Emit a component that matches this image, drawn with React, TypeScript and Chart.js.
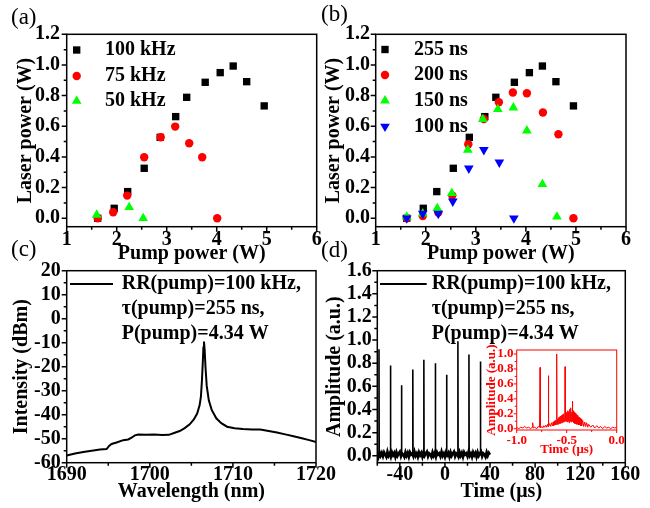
import React, { useEffect, useRef } from 'react';
import { Chart, registerables } from 'chart.js';

Chart.register(...registerables);

const SERIF = '"Liberation Serif", "Times New Roman", serif';

// ---------- (a) / (b): laser power vs pump power ----------
const pumpRef = [1.62, 1.95, 2.22, 2.55, 2.87, 3.18, 3.40, 3.77, 4.07, 4.33, 4.60, 4.95];
const powerRef = [0.0, 0.065, 0.174, 0.326, 0.528, 0.663, 0.789, 0.887, 0.950, 0.993, 0.891, 0.733];
const pump75 = [1.62, 1.93, 2.21, 2.55, 2.88, 3.17, 3.45, 3.71, 4.01];
const power75 = [0.0, 0.039, 0.148, 0.398, 0.528, 0.598, 0.489, 0.398, 0.0];
const pump50 = [1.60, 2.25, 2.53];
const power50 = [0.022, 0.072, 0.0];
const pump200 = [1.62, 1.94, 2.25, 2.53, 2.85, 3.16, 3.46, 3.74, 4.02, 4.34, 4.65, 4.95];
const power200 = [0.0, 0.015, 0.037, 0.148, 0.483, 0.648, 0.757, 0.820, 0.815, 0.690, 0.548, 0.0];
const pump150 = [1.62, 1.94, 2.23, 2.52, 2.84, 3.14, 3.44, 3.75, 4.02, 4.33, 4.62];
const power150 = [0.01, 0.03, 0.065, 0.163, 0.446, 0.646, 0.711, 0.722, 0.572, 0.222, 0.01];
const pump100 = [1.62, 1.94, 2.25, 2.54, 2.86, 3.16, 3.47, 3.76];
const power100 = [0.0, 0.03, 0.03, 0.11, 0.326, 0.446, 0.365, 0.0];

const legendA = ['100 kHz', '75 kHz', '50 kHz'];
const legendB = ['255 ns', '200 ns', '150 ns', '100 ns'];

const pumpTicks = [1, 2, 3, 4, 5, 6];
const pumpMinor = [1.5, 2.5, 3.5, 4.5, 5.5];
const laserTicks = [0, 0.2, 0.4, 0.6, 0.8, 1.0, 1.2];
const laserMinor = [0.1, 0.3, 0.5, 0.7, 0.9, 1.1];

// ---------- (c): spectrum ----------
const wavelength = [1690, 1691, 1692, 1693, 1694, 1694.8, 1695.1, 1695.4, 1696, 1696.8, 1697.4, 1697.8, 1698.2, 1698.6, 1699.6, 1700.5, 1701.5, 1702.3, 1703, 1703.6, 1704.2, 1704.8, 1705.3, 1705.7, 1706.0, 1706.15, 1706.27, 1706.38, 1706.45, 1706.52, 1706.6, 1706.7, 1706.85, 1707.1, 1707.45, 1708, 1708.6, 1709.3, 1710.2, 1711.2, 1712.3, 1713.3, 1714.3, 1715.3, 1716.3, 1717.3, 1718.3, 1719.2, 1720];
const intensity = [-57, -56.2, -55.5, -55, -54.5, -54.3, -53, -52.2, -51.6, -50.6, -50.3, -49.6, -48.6, -48.3, -48.4, -48.2, -48.5, -48.4, -47.5, -46.8, -45.6, -44, -42, -39.5, -36, -32.5, -26, -18, -12, -9.5, -13, -20, -28, -34, -38, -41.5, -43.5, -45, -45.6, -46, -46.2, -46.2, -46.8, -47.4, -48.2, -49, -49.8, -50.6, -51.4];
const wlTicks = [1690, 1700, 1710, 1720];
const wlMinor = [1695, 1705, 1715];
const intTicks = [-60, -50, -40, -30, -20, -10, 0, 10, 20];
const intMinor = [-55, -45, -35, -25, -15, -5, 5, 15];

const legendCD = ['RR(pump)=100 kHz,', 'τ(pump)=255 ns,', 'P(pump)=4.34 W'];

// ---------- (d): pulse train ----------
const trainStart = -60; // first baseline sample (µs), samples every 1 µs
const baselineNoise = [
  0.02, -0.01, 0.03, 0.0, 0.025, -0.005, 0.03, 0.01, -0.01, 0.035, 0.0, 0.02, -0.01, 0.03, 0.005, 0.025, -0.01, 0.03, 0.0, 0.02,
  0.035, -0.005, 0.02, 0.01, -0.01, 0.03, 0.0, 0.025, -0.01, 0.03, 0.01, 0.02, -0.005, 0.035, 0.0, 0.02, -0.01, 0.03, 0.005, 0.025,
  -0.01, 0.03, 0.0, 0.02, 0.035, -0.005, 0.02, 0.01, -0.01, 0.03, 0.0, 0.025, -0.01, 0.03, 0.01, 0.02, -0.005, 0.035, 0.0, 0.02,
  -0.01, 0.03, 0.005, 0.025, -0.01, 0.03, 0.0, 0.02, 0.035, -0.005, 0.02, 0.01, -0.01, 0.03, 0.0, 0.025, -0.01, 0.03, 0.01, 0.02,
  -0.005, 0.035, 0.0, 0.02, -0.01, 0.03, 0.005, 0.025, -0.01, 0.03, 0.0, 0.02, 0.035, -0.005, 0.02, 0.01, -0.01, 0.03, 0.0, 0.025, 0.01,
];
const pulseTimes = [-58.5, -48.3, -38.5, -28.5, -18.7, -8.5, 1.5, 11.5, 21.3, 31.5];
const pulseHeights = [0.92, 0.78, 0.61, 0.745, 0.83, 0.80, 0.70, 0.99, 0.875, 0.815];
const timeTicks = [-40, 0, 40, 80, 120, 160];
const timeMinor = [-60, -20, 20, 60, 100, 140];
const ampTicks = [0, 0.2, 0.4, 0.6, 0.8, 1.0, 1.2, 1.4, 1.6];
const ampMinor = [0.1, 0.3, 0.5, 0.7, 0.9, 1.1, 1.3, 1.5];

// ---------- inset of (d) ----------
const insetTime = [
  -1.0, -0.98, -0.96, -0.94, -0.92, -0.90, -0.88, -0.86, -0.845, -0.84, -0.835, -0.82, -0.80, -0.785,
  -0.772, -0.767, -0.762, -0.75, -0.74, -0.73, -0.72, -0.71, -0.70, -0.69,
  -0.686, -0.683, -0.680, -0.67, -0.66, -0.65, -0.64, -0.635, -0.63, -0.625, -0.62, -0.615, -0.61,
  -0.603, -0.600, -0.597, -0.59, -0.585, -0.58, -0.575, -0.57, -0.565, -0.56, -0.555, -0.55, -0.545, -0.54, -0.535, -0.53, -0.525,
  -0.52, -0.517, -0.514, -0.51, -0.505, -0.50, -0.495, -0.49, -0.485, -0.48, -0.475, -0.47, -0.465, -0.46, -0.455, -0.45,
  -0.446, -0.443, -0.44, -0.435, -0.43, -0.425, -0.42, -0.415, -0.41, -0.405, -0.40, -0.395, -0.39, -0.385, -0.38, -0.375, -0.37, -0.365, -0.36, -0.355, -0.35,
  -0.34, -0.33, -0.32, -0.31, -0.30, -0.29, -0.28, -0.26, -0.24, -0.22, -0.20, -0.18, -0.16, -0.14, -0.12,
  -0.10, -0.08, -0.06, -0.04, -0.02, 0.0,
];
const insetAmp = [
  0.02, 0.0, 0.02, 0.01, 0.03, 0.01, 0.02, 0.0, 0.02, 0.08, 0.01, 0.02, 0.0, 0.03,
  0.02, 0.82, 0.01, 0.03, 0.01, 0.04, 0.02, 0.05, 0.02, 0.06,
  0.03, 0.71, 0.03, 0.07, 0.03, 0.08, 0.04, 0.09, 0.04, 0.10, 0.05, 0.11, 0.05,
  0.06, 1.0, 0.06, 0.13, 0.06, 0.15, 0.07, 0.16, 0.07, 0.17, 0.08, 0.18, 0.08, 0.19, 0.09, 0.2, 0.09,
  0.10, 0.83, 0.10, 0.21, 0.1, 0.22, 0.09, 0.24, 0.10, 0.23, 0.08, 0.26, 0.10, 0.28, 0.09, 0.22,
  0.10, 0.37, 0.10, 0.24, 0.08, 0.22, 0.07, 0.21, 0.07, 0.19, 0.06, 0.18, 0.06, 0.16, 0.05, 0.15, 0.05, 0.14, 0.04, 0.13, 0.04,
  0.11, 0.03, 0.09, 0.03, 0.08, 0.02, 0.06, 0.02, 0.05, 0.01, 0.04, 0.01, 0.03, 0.0, 0.03,
  0.01, 0.02, 0.0, 0.02, 0.01, 0.02,
];
const insetTTicks = [-1.0, -0.5, 0.0];
const insetTMinor = [-0.75, -0.25];
const insetATicks = [0, 0.2, 0.4, 0.6, 0.8, 1.0];
const insetAMinor = [0.1, 0.3, 0.5, 0.7, 0.9];

// ---------- helpers ----------
const RED = '#ff0000';
const GREEN = '#00ff00';
const BLUE = '#0000ff';
const BLACK = '#000000';
const R_RECT = 5.2, R_CIRC = 4.2, R_TRI = 5.6;

type Mark = 'rect' | 'circle' | 'tri' | 'itri';

const zip = (xs: number[], ys: number[]) => xs.map((x, i) => ({ x, y: ys[i] }));

function markerSet(xs: number[], ys: number[], kind: Mark, color: string, order: number) {
  const r = kind === 'rect' ? R_RECT : kind === 'circle' ? R_CIRC : R_TRI;
  return {
    data: zip(xs, ys),
    showLine: false,
    pointStyle: kind === 'rect' ? 'rect' : kind === 'circle' ? 'circle' : 'triangle',
    pointRotation: kind === 'itri' ? 180 : 0,
    pointRadius: r,
    pointHoverRadius: r,
    pointBackgroundColor: color,
    pointBorderColor: color,
    pointBorderWidth: 0,
    order,
    clip: false as any,
  };
}

function drawMark(ctx: CanvasRenderingContext2D, kind: Mark, x: number, y: number, color: string) {
  ctx.save();
  ctx.fillStyle = color;
  ctx.beginPath();
  if (kind === 'rect') {
    const s = R_RECT * Math.SQRT1_2;
    ctx.rect(x - s, y - s, 2 * s, 2 * s);
  } else if (kind === 'circle') {
    ctx.arc(x, y, R_CIRC, 0, Math.PI * 2);
  } else {
    const sg = kind === 'tri' ? 1 : -1;
    for (let k = 0; k < 3; k++) {
      const a = (k * 2 * Math.PI) / 3;
      const px = x + Math.sin(a) * R_TRI * sg;
      const py = y - Math.cos(a) * R_TRI * sg;
      if (k === 0) ctx.moveTo(px, py);
      else ctx.lineTo(px, py);
    }
    ctx.closePath();
  }
  ctx.fill();
  ctx.restore();
}

interface ScaleOpt {
  pos: 'bottom' | 'left';
  min: number;
  max: number;
  ticks: number[];
  fmt: (v: number) => string;
  fit: number;
  tickSize: number;
  tickPad: number;
  title: string;
  titleSize: number;
  titlePad: number;
  color: string;
}

function linScale(o: ScaleOpt) {
  const horiz = o.pos === 'bottom';
  return {
    type: 'linear',
    position: o.pos,
    min: o.min,
    max: o.max,
    bounds: 'data',
    grid: { display: false, drawTicks: false },
    border: { display: false },
    afterBuildTicks: (s: any) => {
      s.ticks = o.ticks.map((v) => ({ value: v }));
    },
    afterFit: (s: any) => {
      if (horiz) s.height = o.fit;
      else s.width = o.fit;
    },
    ticks: {
      autoSkip: false,
      maxRotation: 0,
      minRotation: 0,
      padding: o.tickPad,
      color: o.color,
      font: { family: SERIF, size: o.tickSize, weight: 'bold' },
      callback: (v: any) => o.fmt(Number(v)),
    },
    title: {
      display: true,
      text: o.title,
      color: o.color,
      font: { family: SERIF, size: o.titleSize, weight: 'bold' },
      padding: horiz ? { top: 0, bottom: o.titlePad } : { top: o.titlePad, bottom: 0 },
    },
  };
}

interface FrameOpt {
  color: string;
  lw: number;
  xMajor: number[];
  xMinor: number[];
  yMajor: number[];
  yMinor: number[];
  maj: number;
  min: number;
}

function framePlugin(f: FrameOpt) {
  return {
    id: 'frame',
    afterDatasetsDraw(chart: any) {
      const { ctx, chartArea: a, scales } = chart;
      const xs = scales.x;
      const ys = scales.y;
      ctx.save();
      ctx.strokeStyle = f.color;
      ctx.lineWidth = f.lw;
      ctx.strokeRect(a.left, a.top, a.right - a.left, a.bottom - a.top);
      ctx.beginPath();
      const xt = (vals: number[], len: number) =>
        vals.forEach((v) => {
          const p = xs.getPixelForValue(v);
          ctx.moveTo(p, a.bottom);
          ctx.lineTo(p, a.bottom + len);
        });
      const yt = (vals: number[], len: number) =>
        vals.forEach((v) => {
          const p = ys.getPixelForValue(v);
          ctx.moveTo(a.left, p);
          ctx.lineTo(a.left - len, p);
        });
      xt(f.xMajor, f.maj);
      xt(f.xMinor, f.min);
      yt(f.yMajor, f.maj);
      yt(f.yMinor, f.min);
      ctx.stroke();
      ctx.restore();
    },
  };
}

function markLegendPlugin(labels: string[], kinds: Mark[], colors: string[], markX: number, textX: number, rows: number[]) {
  return {
    id: 'markLegend',
    afterDraw(chart: any) {
      const ctx: CanvasRenderingContext2D = chart.ctx;
      ctx.save();
      ctx.font = `bold 20px ${SERIF}`;
      ctx.fillStyle = BLACK;
      ctx.textAlign = 'left';
      ctx.textBaseline = 'middle';
      labels.forEach((t, i) => {
        drawMark(ctx, kinds[i], markX, rows[i], colors[i]);
        ctx.fillText(t, textX, rows[i]);
      });
      ctx.restore();
    },
  };
}

function lineLegendPlugin(labels: string[], x0: number, x1: number, textX: number, rows: number[]) {
  return {
    id: 'lineLegend',
    afterDraw(chart: any) {
      const ctx: CanvasRenderingContext2D = chart.ctx;
      ctx.save();
      ctx.strokeStyle = BLACK;
      ctx.lineWidth = 2;
      ctx.beginPath();
      ctx.moveTo(x0, rows[0]);
      ctx.lineTo(x1, rows[0]);
      ctx.stroke();
      ctx.font = `bold 20px ${SERIF}`;
      ctx.fillStyle = BLACK;
      ctx.textAlign = 'left';
      ctx.textBaseline = 'middle';
      labels.forEach((t, i) => ctx.fillText(t, textX, rows[i]));
      ctx.restore();
    },
  };
}

function panelLabelPlugin(text: string, x: number, y: number) {
  return {
    id: 'panelLabel',
    afterDraw(chart: any) {
      const ctx: CanvasRenderingContext2D = chart.ctx;
      ctx.save();
      ctx.font = `23px ${SERIF}`;
      ctx.fillStyle = BLACK;
      ctx.textAlign = 'left';
      ctx.textBaseline = 'middle';
      ctx.fillText(text, x, y);
      ctx.restore();
    },
  };
}

const fmt1 = (v: number) => v.toFixed(1);
const fmt0 = (v: number) => String(Math.round(v));

const baseOptions = {
  animation: false,
  responsive: false,
  events: [] as string[],
  plugins: { legend: { display: false }, tooltip: { enabled: false } },
};

function configA() {
  return {
    type: 'scatter',
    data: {
      datasets: [
        markerSet(pumpRef, powerRef, 'rect', BLACK, 3),
        markerSet(pump75, power75, 'circle', RED, 2),
        markerSet(pump50, power50, 'tri', GREEN, 1),
      ],
    },
    options: {
      ...baseOptions,
      layout: { padding: { left: 14, top: 34.3, right: 333.3, bottom: 242 } },
      scales: {
        x: linScale({ pos: 'bottom', min: 1, max: 6, ticks: pumpTicks, fmt: fmt0, fit: 39.3, tickSize: 20, tickPad: 1.3, title: 'Pump power (W)', titleSize: 20, titlePad: 0, color: BLACK }),
        y: linScale({ pos: 'left', min: -0.055, max: 1.2, ticks: laserTicks, fmt: fmt1, fit: 52.7, tickSize: 20, tickPad: 6.7, title: 'Laser power (W)', titleSize: 20, titlePad: 0, color: BLACK }),
      },
    },
    plugins: [
      framePlugin({ color: BLACK, lw: 1.5, xMajor: pumpTicks, xMinor: pumpMinor, yMajor: laserTicks, yMinor: laserMinor, maj: 5, min: 3 }),
      markLegendPlugin(legendA, ['rect', 'circle', 'tri'], [BLACK, RED, GREEN], 76.7, 105, [50, 76, 101]),
      panelLabelPlugin('(a)', 11, 18),
    ],
  };
}

function configB() {
  return {
    type: 'scatter',
    data: {
      datasets: [
        markerSet(pumpRef, powerRef, 'rect', BLACK, 4),
        markerSet(pump200, power200, 'circle', RED, 3),
        markerSet(pump150, power150, 'tri', GREEN, 2),
        markerSet(pump100, power100, 'itri', BLUE, 1),
      ],
    },
    options: {
      ...baseOptions,
      layout: { padding: { left: 322, top: 34.3, right: 24, bottom: 242 } },
      scales: {
        x: linScale({ pos: 'bottom', min: 1, max: 6, ticks: pumpTicks, fmt: fmt0, fit: 39.3, tickSize: 20, tickPad: 1.3, title: 'Pump power (W)', titleSize: 20, titlePad: 0, color: BLACK }),
        y: linScale({ pos: 'left', min: -0.055, max: 1.2, ticks: laserTicks, fmt: fmt1, fit: 53.7, tickSize: 20, tickPad: 5.7, title: 'Laser power (W)', titleSize: 20, titlePad: 0, color: BLACK }),
      },
    },
    plugins: [
      framePlugin({ color: BLACK, lw: 1.5, xMajor: pumpTicks, xMinor: pumpMinor, yMajor: laserTicks, yMinor: laserMinor, maj: 5, min: 3 }),
      markLegendPlugin(legendB, ['rect', 'circle', 'tri', 'itri'], [BLACK, RED, GREEN, BLUE], 385, 414, [49.5, 75, 100.7, 126.5]),
      panelLabelPlugin('(b)', 321, 15),
    ],
  };
}

function configC() {
  return {
    type: 'scatter',
    data: {
      datasets: [
        {
          data: zip(wavelength, intensity),
          showLine: true,
          borderColor: BLACK,
          borderWidth: 2,
          pointRadius: 0,
          tension: 0,
        },
      ],
    },
    options: {
      ...baseOptions,
      layout: { padding: { left: 10, top: 270.7, right: 334, bottom: 4 } },
      scales: {
        x: linScale({ pos: 'bottom', min: 1690, max: 1720, ticks: wlTicks, fmt: fmt0, fit: 41.3, tickSize: 20, tickPad: 0, title: 'Wavelength (nm)', titleSize: 20, titlePad: 0, color: BLACK }),
        y: linScale({ pos: 'left', min: -60, max: 20, ticks: intTicks, fmt: fmt0, fit: 56.7, tickSize: 20, tickPad: 6, title: 'Intensity (dBm)', titleSize: 20, titlePad: 0, color: BLACK }),
      },
    },
    plugins: [
      framePlugin({ color: BLACK, lw: 1.5, xMajor: wlTicks, xMinor: wlMinor, yMajor: intTicks, yMinor: intMinor, maj: 5, min: 3 }),
      lineLegendPlugin(legendCD, 70, 113, 121.7, [284, 309, 334]),
      panelLabelPlugin('(c)', 11, 250),
    ],
  };
}

function baselinePoints() {
  return baselineNoise.map((v, i) => ({ x: trainStart + i, y: v }));
}

function pulsePoints() {
  const pts: any[] = [];
  pulseTimes.forEach((t, i) => {
    pts.push({ x: t - 0.2, y: 0.01 }, { x: t, y: pulseHeights[i] }, { x: t + 0.2, y: 0.01 }, { x: t + 0.3, y: null });
  });
  return pts;
}

function configD() {
  return {
    type: 'scatter',
    data: {
      datasets: [
        {
          data: pulsePoints(),
          showLine: true,
          spanGaps: false,
          borderColor: BLACK,
          borderWidth: 1.6,
          pointRadius: 0,
          tension: 0,
        },
        {
          data: baselinePoints(),
          showLine: true,
          borderColor: BLACK,
          borderWidth: 2.6,
          pointRadius: 0,
          tension: 0,
        },
      ],
    },
    options: {
      ...baseOptions,
      layout: { padding: { left: 323, top: 270.7, right: 24.7, bottom: 4 } },
      scales: {
        x: linScale({ pos: 'bottom', min: -60, max: 160, ticks: timeTicks, fmt: fmt0, fit: 41.3, tickSize: 20, tickPad: 0, title: 'Time (μs)', titleSize: 20, titlePad: 0, color: BLACK }),
        y: linScale({ pos: 'left', min: -0.06, max: 1.6, ticks: ampTicks, fmt: fmt1, fit: 54.3, tickSize: 20, tickPad: 5.6, title: 'Amplitude (a.u.)', titleSize: 20, titlePad: 0, color: BLACK }),
      },
    },
    plugins: [
      framePlugin({ color: BLACK, lw: 1.5, xMajor: timeTicks, xMinor: timeMinor, yMajor: ampTicks, yMinor: ampMinor, maj: 5, min: 3 }),
      lineLegendPlugin(legendCD, 380, 426.7, 431.7, [284, 309, 334]),
      panelLabelPlugin('(d)', 321, 251),
    ],
  };
}

function configInset() {
  return {
    type: 'scatter',
    data: {
      datasets: [
        {
          data: zip(insetTime, insetAmp),
          showLine: true,
          borderColor: RED,
          borderWidth: 1,
          pointRadius: 0,
          tension: 0,
        },
      ],
    },
    options: {
      ...baseOptions,
      layout: { padding: { left: 483.9, top: 350, right: 33.3, bottom: 50.2 } },
      scales: {
        x: linScale({ pos: 'bottom', min: -1, max: 0, ticks: insetTTicks, fmt: fmt1, fit: 27.8, tickSize: 13, tickPad: 2.4, title: 'Time (μs)', titleSize: 13, titlePad: 0, color: RED }),
        y: linScale({ pos: 'left', min: -0.017, max: 1.054, ticks: insetATicks, fmt: fmt1, fit: 32.8, tickSize: 13, tickPad: 3.2, title: 'Amplitude (a.u.)', titleSize: 13, titlePad: 0, color: RED }),
      },
    },
    plugins: [
      framePlugin({ color: RED, lw: 1, xMajor: insetTTicks, xMinor: insetTMinor, yMajor: insetATicks, yMinor: insetAMinor, maj: 3, min: 2 }),
    ],
  };
}

export default function App() {
  const refs = useRef<(HTMLCanvasElement | null)[]>([]);
  useEffect(() => {
    const cfgs = [configA(), configB(), configC(), configD(), configInset()];
    const charts = cfgs.map((cfg, i) => new Chart(refs.current[i] as HTMLCanvasElement, cfg as any));
    return () => charts.forEach((c) => c.destroy());
  }, []);
  return (
    <div style={{ position: 'absolute', left: 0, top: 0, width: 650, height: 508, background: '#ffffff', overflow: 'hidden' }}>
      {[0, 1, 2, 3, 4].map((i) => (
        <canvas
          key={i}
          ref={(el) => {
            refs.current[i] = el;
          }}
          width={650}
          height={508}
          style={{ position: 'absolute', left: 0, top: 0, width: 650, height: 508 }}
        />
      ))}
    </div>
  );
}
